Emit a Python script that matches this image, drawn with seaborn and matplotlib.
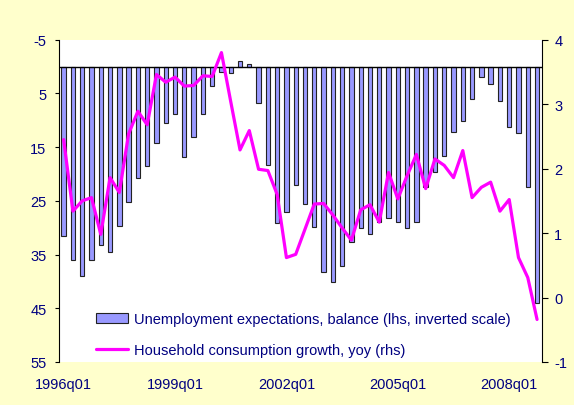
import numpy as np
import pandas as pd
import matplotlib
matplotlib.use("Agg")
import matplotlib.pyplot as plt
import seaborn as sns
from matplotlib.patches import Patch
from matplotlib.lines import Line2D

# ---- data ----
quarters = [f"{y}q0{q}" for y in range(1996, 2009) for q in range(1, 5)]
unemployment = [31.5, 36.1, 38.9, 36.1, 33.2, 34.5, 29.6, 25.3, 20.8, 18.6, 14.3, 10.6,
                8.8, 16.8, 13.2, 8.8, 3.7, 1.1, 1.2, -1.1, -0.5, 6.7, 18.3, 29.2,
                27.1, 22.0, 25.5, 29.8, 38.3, 40.2, 37.1, 32.7, 30.0, 31.1, 29.0, 28.1,
                29.0, 30.1, 29.0, 22.5, 19.6, 16.6, 12.2, 10.2, 6.1, 1.9, 3.2, 6.5,
                11.2, 12.4, 22.4, 44.0]
consumption = [2.45, 1.34, 1.50, 1.55, 0.98, 1.86, 1.63, 2.54, 2.89, 2.68, 3.46, 3.34,
               3.42, 3.28, 3.29, 3.44, 3.43, 3.80, 3.04, 2.29, 2.59, 1.99, 1.97, 1.60,
               0.62, 0.67, 1.06, 1.45, 1.46, 1.28, 1.08, 0.89, 1.36, 1.44, 1.17, 1.94,
               1.53, 1.89, 2.22, 1.69, 2.15, 2.05, 1.86, 2.28, 1.55, 1.71, 1.79, 1.34,
               1.52, 0.62, 0.31, -0.34]
tick_labels = ["1996q01", "1999q01", "2002q01", "2005q01", "2008q01"]
left_ticks = [-5, 5, 15, 25, 35, 45, 55]
right_ticks = [-1, 0, 1, 2, 3, 4]
legend_labels = ["Unemployment expectations, balance (lhs, inverted scale)",
                 "Household consumption growth, yoy (rhs)"]

df = pd.DataFrame({"quarter": quarters, "unemp": unemployment, "cons": consumption})
df["pos"] = np.arange(len(df))

navy = "#000080"
bar_color = "#9999FF"
line_color = "#FF00FF"

sns.set_style("white")
plt.rcParams["font.family"] = ["Liberation Sans", "DejaVu Sans"]
plt.rcParams["font.size"] = 10.5
plt.rcParams["axes.unicode_minus"] = False

fig = plt.figure(figsize=(5.74, 4.06), dpi=100, facecolor="#FFFFCC")
ax = fig.add_axes([59 / 574, 1 - 363 / 406, (541.7 - 59) / 574, (363 - 40.7) / 406])
ax.set_facecolor("white")

sns.barplot(data=df, x="quarter", y="unemp", ax=ax, color=bar_color, saturation=1,
            edgecolor="#222222", linewidth=0.8, width=0.47, order=quarters)
ax.axhline(0, color="black", lw=1.0, zorder=3)
ax.set_ylim(55, -5)
ax.set_yticks(left_ticks)
ax.set_xlim(-0.5, len(quarters) - 0.5)
ax.set_xticks([quarters.index(t) for t in tick_labels])
ax.set_xticklabels(tick_labels)
ax.set_xlabel("")
ax.set_ylabel("")

ax2 = ax.twinx()
sns.lineplot(data=df, x="pos", y="cons", ax=ax2, color=line_color, lw=2.3)
ax2.set_ylim(-1, 4)
ax2.set_yticks(right_ticks)
ax2.set_xlim(-0.5, len(quarters) - 0.5)
ax2.set_ylabel("")
ax2.set_xlabel("")

for a in (ax, ax2):
    for s in ("top", "bottom"):
        a.spines[s].set_visible(False)
ax.spines["right"].set_visible(False)
ax2.spines["left"].set_visible(False)
ax.spines["left"].set_color("black")
ax.spines["left"].set_linewidth(0.8)
ax2.spines["right"].set_color("black")
ax2.spines["right"].set_linewidth(0.8)

ax.tick_params(axis="y", direction="out", length=3, width=0.8, color="black",
               pad=6, labelcolor=navy, labelsize=10.5, left=True)
ax.tick_params(axis="x", length=0, pad=10.5, labelcolor=navy, labelsize=10.5)
ax2.tick_params(axis="y", direction="out", length=4, width=0.8, color="black",
                pad=5, labelcolor=navy, labelsize=10.5, right=True)

handles = [Patch(facecolor=bar_color, edgecolor="#222222", linewidth=0.8),
           Line2D([0], [0], color=line_color, lw=2.3)]
leg = fig.legend(handles, legend_labels, loc="center left",
                 bbox_to_anchor=(96 / 574, 1 - 335.5 / 406), frameon=False,
                 borderpad=0, borderaxespad=0, handlelength=2.2, handletextpad=0.4,
                 labelspacing=1.15, fontsize=10.5)
for t in leg.get_texts():
    t.set_color(navy)

fig.savefig("out.png", dpi=100, facecolor=fig.get_facecolor())
